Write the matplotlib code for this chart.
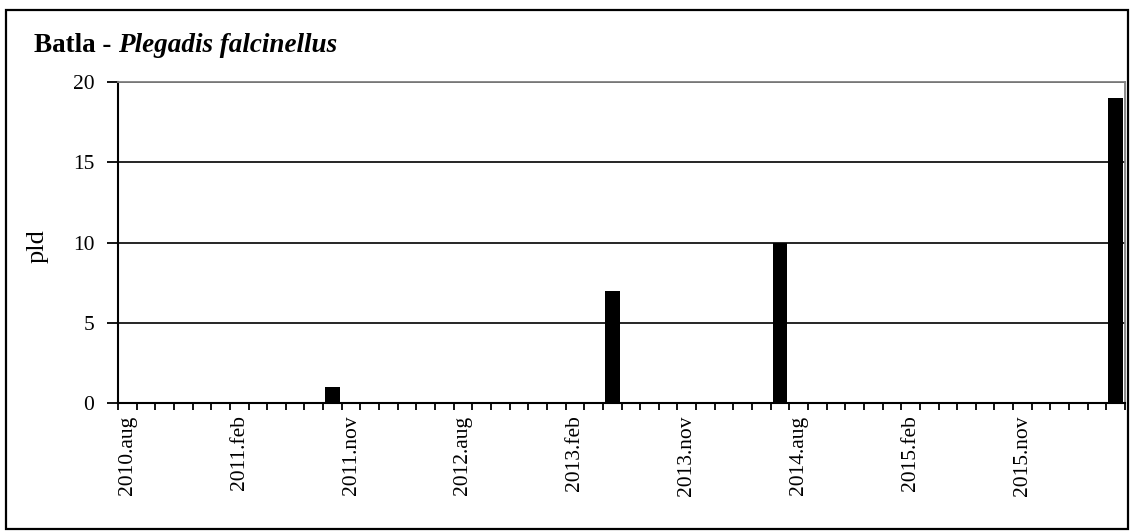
import matplotlib
matplotlib.use("Agg")
import matplotlib.pyplot as plt
from matplotlib.patches import Rectangle

# ---- data ----
n_categories = 54
# values per survey category (0 = none observed)
values = [0] * 54
values[11] = 1
values[26] = 7
values[35] = 10
values[53] = 19
tick_labels = ["2010.aug", "2011.feb", "2011.nov", "2012.aug", "2013.feb",
               "2013.nov", "2014.aug", "2015.feb", "2015.nov"]
label_step = 6
y_ticks = [0, 5, 10, 15, 20]
title_plain = "Batla - "
title_italic = "Plegadis falcinellus"
y_label = "pld"

plt.rcParams['font.family'] = ['Liberation Serif', 'DejaVu Serif']

fig = plt.figure(figsize=(11.31, 5.31), dpi=100)
W, H = 1131, 531
ax = fig.add_axes([118 / W, 1 - 403 / H, (1125 - 118) / W, (403 - 82) / H])

x = [i + 0.5 for i in range(n_categories)]
ax.bar(x, values, width=0.8, color="black", zorder=3)

ax.set_xlim(0, n_categories)
ax.set_ylim(0, 20)
ax.set_yticks(y_ticks)
ax.set_yticklabels([str(v) for v in y_ticks])
ax.yaxis.grid(True, color="black", linewidth=1.2, zorder=1)
ax.set_axisbelow(True)

label_pos = [i * label_step + 0.5 for i in range(len(tick_labels))]
ax.set_xticks(label_pos)
ax.set_xticklabels(tick_labels, rotation=90, fontsize=15.5)
ax.set_xticks(range(n_categories + 1), minor=True)
ax.tick_params(axis="x", which="major", length=0, pad=9)
ax.tick_params(axis="x", which="minor", length=5, width=1.3, direction="out", color="black")
ax.tick_params(axis="y", which="major", length=8, width=1.3, direction="out", pad=9, labelsize=15.5)

for s in ["left", "bottom"]:
    ax.spines[s].set_color("black")
    ax.spines[s].set_linewidth(1.5)
for s in ["top", "right"]:
    ax.spines[s].set_color("#808080")
    ax.spines[s].set_linewidth(1.3)
ax.spines["bottom"].set_zorder(4)

fig.text(38 / W, 1 - 246 / H, y_label, rotation=90, fontsize=19, ha="center", va="center")

t1 = fig.text(34 / W, 1 - 52 / H, title_plain, fontsize=19.5, fontweight="bold",
              ha="left", va="baseline")
ax.annotate(title_italic, xy=(1, 0), xycoords=t1, fontsize=19.5, fontweight="bold",
            fontstyle="italic", ha="left", va="bottom", annotation_clip=False)

border = Rectangle((6 / W, 1 - 529 / H), (1128 - 6) / W, (529 - 10) / H,
                   transform=fig.transFigure, fill=False, edgecolor="black", linewidth=1.6)
fig.patches.append(border)

fig.savefig("out.png", dpi=100)
